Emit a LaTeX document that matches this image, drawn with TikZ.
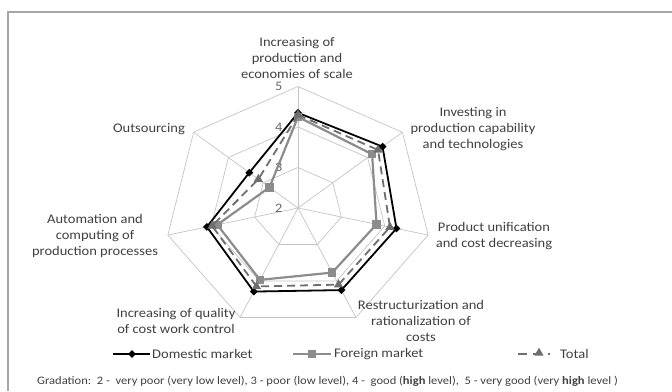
\documentclass[tikz,border=0pt]{standalone}
\usepackage{fontspec}
\setmainfont{Carlito}[FakeStretch=1.1]
\usetikzlibrary{shapes.geometric}

\definecolor{txtgray}{HTML}{404040}
\definecolor{gridgray}{HTML}{C4C4C4}
\definecolor{forgray}{HTML}{8C8C8C}
\definecolor{totgray}{HTML}{6E6E6E}

\tikzset{
  grid/.style={gridgray, line width=0.7pt},
  lbl/.style={align=center, inner sep=0pt, text=txtgray, font=\fontsize{13.2}{15.8}\selectfont},
  ticklbl/.style={inner sep=0pt, text=txtgray!80, font=\fontsize{13}{15}\selectfont},
  domestic/.style={black, line width=1.8pt, line join=round},
  foreign/.style={forgray, line width=2.2pt, line join=round},
  total/.style={totgray, line width=1.8pt, dash pattern=on 8pt off 5pt},
  dmark/.style={diamond, fill=black, inner sep=0pt, minimum size=8pt},
  fmark/.style={rectangle, fill=forgray, inner sep=0pt, minimum size=8.5pt},
  tmark/.style={isosceles triangle, isosceles triangle apex angle=60, shape border rotate=90, fill=totgray, inner sep=0pt, minimum size=8pt}
}

\begin{document}
\begin{tikzpicture}[x=1pt,y=-1pt]
  \useasboundingbox (0,0) rectangle (672,391);
  \draw [gray!70, line width=1.2pt] (8,391) -- (8,12) -- (672,12);

  \begin{scope}[shift={(298,208)}, x=44.5pt, y=40.5pt]
    \foreach \r in {1,2,3}
      \draw [grid] (90:\r) \foreach \k in {1,...,6}{ -- ({90-\k*360/7}:\r)} -- cycle;
    \foreach \k in {0,...,6}
      \draw [grid] (0,0) -- ({90-\k*360/7}:3);
    \foreach \n in {2,...,5}
      \node [ticklbl] (t\n) at (-0.43,\n-2) {\n};

    \foreach \v [count=\k from 0] in {4.35,4.43,4.27,4.25,4.29,4.10,3.40}
      \coordinate (d\k) at ({90-\k*360/7}:{\v-2});
    \foreach \v [count=\k from 0] in {4.25,4.13,3.81,3.77,3.97,3.86,2.82}
      \coordinate (f\k) at ({90-\k*360/7}:{\v-2});
    \foreach \v [count=\k from 0] in {4.30,4.30,4.12,4.10,4.15,3.98,3.14}
      \coordinate (s\k) at ({90-\k*360/7}:{\v-2});

    \draw [domestic] (d0) -- (d1) -- (d2) -- (d3) -- (d4) -- (d5) -- (d6) -- cycle;
    \foreach \k in {0,...,6} \node [dmark] (dm\k) at (d\k) {};
    \draw [foreign] (f0) -- (f1) -- (f2) -- (f3) -- (f4) -- (f5) -- (f6) -- cycle;
    \foreach \k in {0,...,6} \node [fmark] (fm\k) at (f\k) {};
    \draw [total] (s0) -- (s1) -- (s2) -- (s3) -- (s4) -- (s5) -- (s6) -- cycle;
    \foreach \k in {0,...,6} \node [tmark] (sm\k) at (s\k) {};
  \end{scope}

  \node [lbl] (c1) at (297,58) {Increasing of\\production and\\economies of scale};
  \node [lbl] (c2) at (473,129) {Investing in\\production capability\\and technologies};
  \node [lbl] (c3) at (494,236) {Product unification\\and cost decreasing};
  \node [lbl] (c4) at (421,321) {Restructurization and\\rationalization of\\costs};
  \node [lbl] (c5) at (176,321) {Increasing of quality\\of cost work control};
  \node [lbl] (c6) at (95,236) {Automation and\\computing of\\production processes};
  \node [lbl] (c7) at (149,129) {Outsourcing};

  \coordinate (ld1) at (113,354); \coordinate (ld2) at (150,354);
  \draw [domestic] (ld1) -- (ld2);
  \node [dmark] (ldm) at (132,354) {};
  \node [lbl, anchor=west] (ldt) at (152,354) {Domestic market};
  \coordinate (lf1) at (293,354); \coordinate (lf2) at (331,354);
  \draw [foreign] (lf1) -- (lf2);
  \node [fmark] (lfm) at (312,354) {};
  \node [lbl, anchor=west] (lft) at (334,354) {Foreign market};
  \coordinate (ls1) at (518,354); \coordinate (ls2) at (550,354);
  \draw [total, dash pattern=on 9pt off 6pt] (ls1) -- (ls2);
  \node [tmark] (lsm) at (539,353) {};
  \node [lbl, anchor=west] (lst) at (560,354) {Total};

  \node [lbl, anchor=west, font=\fontsize{11.4}{14}\selectfont] (grad) at (37,381)
    {Gradation:\ \ 2 -\ \ very poor (very low level), 3 - poor (low level), 4 -\ \ good (\textbf{high} level),\ \ 5 - very good (very \textbf{high} level\ )};
\end{tikzpicture}
\end{document}
